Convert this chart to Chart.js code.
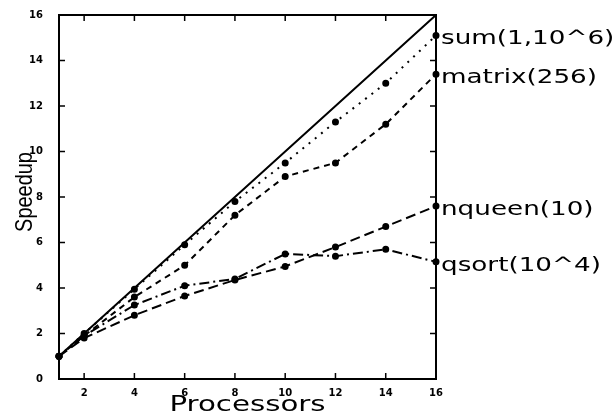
<!DOCTYPE html>
<html>
<head>
<meta charset="utf-8">
<script src="https://cdn.jsdelivr.net/npm/chart.js@4/dist/chart.umd.min.js"></script>
<style>
  html, body { margin: 0; padding: 0; background: #fff; }
  #wrap { width: 614px; height: 414px; }
</style>
</head>
<body>
<div id="wrap"><canvas id="speedupChart" width="614" height="414"></canvas></div>
<script>
// processors on the x axis, speedup values per benchmark
const processors = [1, 2, 4, 6, 8, 10, 12, 14, 16];
const idealSpeedup = [1, 2, 4, 6, 8, 10, 12, 14, 16];
const sumSpeedup = [1, 2.0, 3.95, 5.9, 7.8, 9.5, 11.3, 13.0, 15.1];
const matrixSpeedup = [1, 1.9, 3.6, 5.0, 7.2, 8.9, 9.5, 11.2, 13.4];
const nqueenSpeedup = [1, 1.8, 2.8, 3.65, 4.35, 4.95, 5.8, 6.7, 7.6];
const qsortSpeedup = [1, 1.9, 3.25, 4.1, 4.4, 5.5, 5.4, 5.7, 5.15];
const seriesLabels = ['sum(1,10^6)', 'matrix(256)', 'nqueen(10)', 'qsort(10^4)'];
const xTicks = [2, 4, 6, 8, 10, 12, 14, 16];
const yTicks = [0, 2, 4, 6, 8, 10, 12, 14, 16];

const pts = vals => processors.map((p, i) => ({ x: p, y: vals[i] }));

function stretchText(ctx, text, x, y, sx) {
    ctx.save();
    ctx.translate(x, y);
    ctx.scale(sx, 1);
    ctx.fillText(text, 0, 0);
    ctx.restore();
}

// box, inward tick marks and the text labels round the plot
const framePlugin = {
    id: 'frame',
    afterDraw(chart) {
        const { ctx, chartArea: a, scales: { x, y } } = chart;
        ctx.save();
        ctx.strokeStyle = '#000';
        ctx.lineWidth = 2;
        ctx.strokeRect(a.left, a.top, a.right - a.left, a.bottom - a.top);
        ctx.lineWidth = 1.5;
        ctx.beginPath();
        xTicks.slice(0, -1).forEach(v => {
            const px = x.getPixelForValue(v);
            ctx.moveTo(px, a.bottom); ctx.lineTo(px, a.bottom - 6);
            ctx.moveTo(px, a.top); ctx.lineTo(px, a.top + 6);
        });
        yTicks.slice(1, -1).forEach(v => {
            const py = y.getPixelForValue(v);
            ctx.moveTo(a.left, py); ctx.lineTo(a.left + 6, py);
            ctx.moveTo(a.right, py); ctx.lineTo(a.right - 6, py);
        });
        ctx.stroke();

        ctx.fillStyle = '#000';
        ctx.textBaseline = 'middle';
        ctx.textAlign = 'left';
        ctx.font = '19px "DejaVu Sans"';
        const lastVals = [sumSpeedup, matrixSpeedup, nqueenSpeedup, qsortSpeedup].map(s => s[s.length - 1]);
        lastVals.forEach((v, i) => {
            stretchText(ctx, seriesLabels[i], a.right + 5, y.getPixelForValue(v) + 4, 1.38);
        });

        // axis titles
        ctx.textAlign = 'center';
        ctx.font = '22px "DejaVu Sans"';
        stretchText(ctx, 'Processors', (a.left + a.right) / 2, 405, 1.33);

        ctx.save();
        ctx.translate(32, 192);
        ctx.rotate(-Math.PI / 2);
        ctx.scale(0.83, 1);
        ctx.textBaseline = 'alphabetic';
        ctx.font = '24px "Liberation Sans"';
        ctx.fillText('Speedup', 0, 0);
        ctx.restore();
        ctx.restore();
    }
};

const tickFont = { family: 'DejaVu Sans', size: 10, weight: 'bold' };

new Chart(document.getElementById('speedupChart'), {
    type: 'line',
    data: {
        datasets: [
            { label: 'ideal', data: pts(idealSpeedup), borderColor: '#000', borderWidth: 2, pointRadius: 0 },
            { label: seriesLabels[0], data: pts(sumSpeedup), borderColor: '#000', borderWidth: 2, borderDash: [2, 6], pointRadius: 2.5 },
            { label: seriesLabels[1], data: pts(matrixSpeedup), borderColor: '#000', borderWidth: 2, borderDash: [6, 5], pointRadius: 2.5 },
            { label: seriesLabels[2], data: pts(nqueenSpeedup), borderColor: '#000', borderWidth: 2, borderDash: [10, 5], pointRadius: 2.5 },
            { label: seriesLabels[3], data: pts(qsortSpeedup), borderColor: '#000', borderWidth: 2, borderDash: [10, 4, 2, 4], pointRadius: 2.5 }
        ]
    },
    options: {
        responsive: false,
        animation: false,
        layout: { padding: { top: 15, right: 178, bottom: 0, left: 0 } },
        elements: {
            point: { backgroundColor: '#000', borderColor: '#000', pointStyle: 'circle' },
            line: { tension: 0 }
        },
        datasets: { line: { clip: false } },
        plugins: { legend: { display: false }, tooltip: { enabled: false } },
        scales: {
            x: {
                type: 'linear',
                min: 1,
                max: 16,
                afterBuildTicks: s => { s.ticks = xTicks.map(v => ({ value: v })); },
                afterFit: s => { s.height = 35; s.paddingLeft = 0; s.paddingRight = 0; },
                grid: { display: false, drawTicks: false },
                border: { display: false },
                ticks: { color: '#000', padding: 8, maxRotation: 0, font: tickFont }
            },
            y: {
                min: 0,
                max: 16,
                afterBuildTicks: s => { s.ticks = yTicks.map(v => ({ value: v })); },
                afterFit: s => { s.width = 59; s.paddingTop = 0; s.paddingBottom = 0; },
                grid: { display: false, drawTicks: false },
                border: { display: false },
                ticks: { color: '#000', padding: 16, font: tickFont }
            }
        }
    },
    plugins: [framePlugin]
});
</script>
</body>
</html>
